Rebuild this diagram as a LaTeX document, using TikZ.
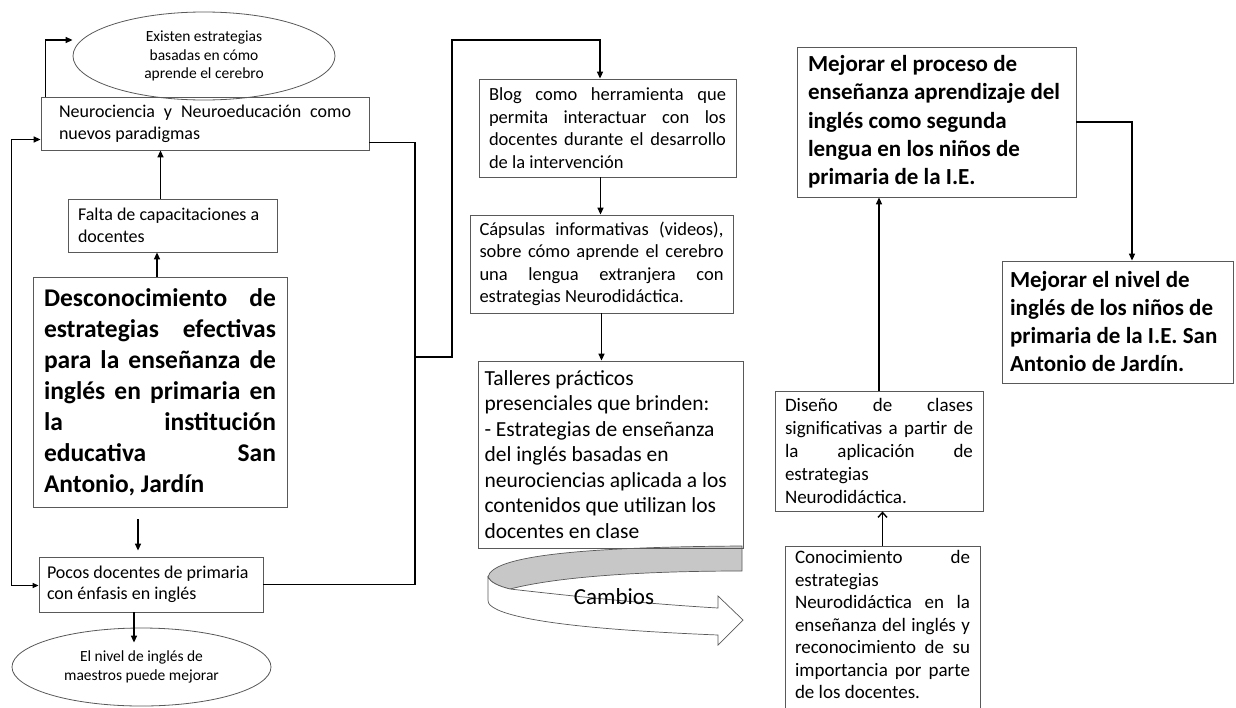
\documentclass[tikz,border=0pt]{standalone}
\usepackage{fontspec}
\setmainfont{Carlito}
\usetikzlibrary{arrows.meta,shapes.geometric}
\tolerance=10000
\hyphenpenalty=10000
\tikzset{
  caja/.style={draw=black!65,line width=.8pt,inner xsep=0pt,inner ysep=2pt},
  nube/.style={ellipse,draw=black!65,line width=.8pt,inner sep=0pt,align=flush center,font=\fontsize{15.5}{18.5}\selectfont},
  letra/.style 2 args={font=\fontsize{#1}{#2}\selectfont},
  gruesa/.style 2 args={font=\fontsize{#1}{#2}\selectfont\bfseries},
  flecha/.style={-{Triangle[length=7pt,width=6pt]},line width=1.4pt},
  dobleflecha/.style={{Triangle[length=6pt,width=5pt]}-{Triangle[length=7pt,width=6pt]},line width=1.4pt},
  abierta/.style={-{Straight Barb[length=5pt,width=9pt]},line width=1.4pt},
  linea/.style={line width=1.4pt}
}
\begin{document}
\begin{tikzpicture}[x=1pt,y=-1pt]
\clip (0,0) rectangle (1236,707);
\fill[white] (0,0) rectangle (1236,707);
\fill[black!22,draw=black!65,line width=.7pt] (488,577) .. controls (492,556) and (580,547) .. (742,546) -- (742,571) .. controls (650,571) and (560,576) .. (510,589) .. controls (498,586) and (490,582) .. (488,577) -- cycle;
\draw[fill=white,draw=black!65,line width=.7pt] (510,589) .. controls (580,597) and (650,604) .. (718,608) -- (718,596) -- (743,620) -- (718,645) -- (718,635) .. controls (620,631) and (530,624) .. (498,610) .. controls (490,606) and (488,604) .. (488,600) -- (488,577) .. controls (490,582) and (498,586) .. (510,589) -- cycle;
\node (cambios) at (614,597) [letra={23}{27}]{Cambios};
\node (exist) at (204,56) [nube,minimum width=262pt,minimum height=88pt]{Existen estrategias\\basadas en cómo\\aprende el cerebro};
\node (neuro) at (205,123.5) [caja,letra={18}{22},text width=292pt,minimum width=328pt,minimum height=53pt,align=justify]{Neurociencia y Neuroeducación como\linebreak nuevos paradigmas};
\node (falta) at (172.5,225.5) [caja,letra={18}{22},text width=189pt,minimum width=209pt,minimum height=53pt,align=flush left]{Falta de capacitaciones a\\docentes};
\node (descon) at (160,392) [caja,gruesa={25.5}{31},text width=232pt,minimum width=254pt,minimum height=230pt,align=justify]{Desconocimiento de\linebreak estrategias efectivas\linebreak para la enseñanza de\linebreak inglés en primaria en\linebreak la institución\linebreak educativa San\linebreak Antonio, Jardín};
\node (pocos) at (151,584.5) [caja,letra={18}{21.5},text width=208pt,minimum width=224pt,minimum height=55pt,align=flush left]{Pocos docentes de primaria\\con énfasis en inglés};
\node (nivel) at (141.5,667) [nube,minimum width=259pt,minimum height=78pt]{El nivel de inglés de\\maestros puede mejorar};
\node (blog) at (607.5,128) [caja,letra={18.5}{22.5},text width=237pt,minimum width=257pt,minimum height=98pt,align=justify]{Blog como herramienta que\linebreak permita interactuar con los\linebreak docentes durante el desarrollo\linebreak de la intervención};
\node (caps) at (601.5,264) [caja,letra={18.5}{22.5},text width=244pt,minimum width=263pt,minimum height=98pt,align=justify]{Cápsulas informativas (videos),\linebreak sobre cómo aprende el cerebro\linebreak una lengua extranjera con\linebreak estrategias Neurodidáctica.};
\node (talleres) at (610.5,454.5) [caja,letra={21.5}{25.5},text width=252pt,minimum width=265pt,minimum height=187pt,align=flush left]{Talleres prácticos\\presenciales que brinden:\\- Estrategias de enseñanza\\del inglés basadas en\\neurociencias aplicada a los\\contenidos que utilizan los\\docentes en clase};
\node (mejproc) at (936.5,122) [caja,gruesa={23}{28.3},text width=257pt,minimum width=279pt,minimum height=150pt,align=flush left]{Mejorar el proceso de\\enseñanza aprendizaje del\\inglés como segunda\\lengua en los niños de\\primaria de la I.E.};
\node (mejniv) at (1117.5,322) [caja,gruesa={23}{28},text width=215pt,minimum width=231pt,minimum height=122pt,align=flush left]{Mejorar el nivel de\\inglés de los niños de\\primaria de la I.E. San\\Antonio de Jardín.};
\node (diseno) at (879,451) [caja,letra={19}{23},text width=188pt,minimum width=208pt,minimum height=120pt,align=justify]{Diseño de clases\linebreak significativas a partir de\linebreak la aplicación de\linebreak estrategias\linebreak Neurodidáctica.};
\node (conoc) at (882.5,546) [caja,anchor=north,inner ysep=4pt,letra={19}{22.5},text width=175pt,minimum width=195pt,align=justify]{Conocimiento de\linebreak estrategias\linebreak Neurodidáctica en la\linebreak enseñanza del inglés y\linebreak reconocimiento de su\linebreak importancia por parte\linebreak de los docentes.\\\mbox{}};
\coordinate (jr) at (415,357);
\coordinate (jt) at (452,40);
\draw[flecha] ([xshift=5pt]neuro.north west) |- ([yshift=16pt]exist.west);
\draw[flecha] ([xshift=-12pt]falta.north) -- ([xshift=-12pt]falta.north |- neuro.south);
\draw[flecha] ([xshift=-3pt]descon.north) -- ([xshift=-3pt]descon.north |- falta.south);
\draw[flecha] ([xshift=-22pt,yshift=-12pt]descon.south) -- ([xshift=-22pt,yshift=6pt]descon.south |- pocos.north);
\draw[flecha] ([xshift=-17pt]pocos.south) -- ([xshift=-17pt,yshift=-15pt]pocos.south |- nivel.north);
\draw[dobleflecha] ([yshift=-1pt]pocos.west) -- ++(-27,0) |- ([yshift=-16pt]neuro.west);
\draw[linea] ([yshift=-19pt]neuro.east) -| (jr) |- (pocos.east);
\draw[flecha] (jr) -| (jt) -| ([xshift=-7.5pt]blog.north);
\draw[flecha] ([xshift=-7pt]blog.south) -- ([xshift=-7pt]blog.south |- caps.north);
\draw[flecha] (caps.south) -- (caps.south |- talleres.north);
\draw[abierta] (conoc.north) -- (conoc.north |- diseno.south);
\draw[flecha] (diseno.north) -- (diseno.north |- mejproc.south);
\draw[flecha] (mejproc.east) -| ([xshift=14.5pt]mejniv.north);
\end{tikzpicture}
\end{document}
